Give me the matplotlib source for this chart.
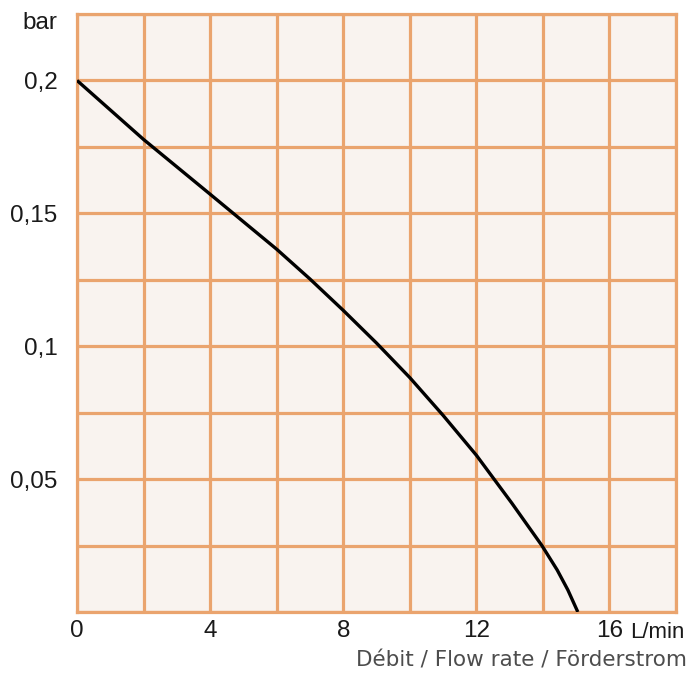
import matplotlib
matplotlib.use("Agg")
import matplotlib.pyplot as plt
from matplotlib.ticker import MultipleLocator

# Data
flow = [0, 2, 4, 6, 7, 8, 9, 10, 11, 12, 13.07, 13.5, 13.97, 14.43, 14.75, 15.05]
pressure = [0.2, 0.1778, 0.1572, 0.1365, 0.1253, 0.1135, 0.1012, 0.0882, 0.074,
            0.059, 0.0409, 0.0333, 0.025, 0.0158, 0.0083, 0.0]
xticks = [0, 4, 8, 12, 16]
xtick_labels = ["0", "4", "8", "12", "16"]
yticks = [0.05, 0.1, 0.15, 0.2]
ytick_labels = ["0,05", "0,1", "0,15", "0,2"]

grid_color = "#EAA46E"
bg_color = "#F9F3EF"
label_font = ["Liberation Sans", "DejaVu Sans"]
text_color = "#1a1a1a"

fig = plt.figure(figsize=(6.89, 6.74), dpi=100)
ax = fig.add_axes([77/689, 1 - 612/674, (676 - 77)/689, (612 - 14)/674])
ax.set_facecolor(bg_color)

ax.plot(flow, pressure, color="black", lw=2.4, solid_capstyle="butt",
        solid_joinstyle="round", zorder=5)

ax.set_xlim(0, 18)
ax.set_ylim(0, 0.225)
ax.xaxis.set_minor_locator(MultipleLocator(2))
ax.yaxis.set_minor_locator(MultipleLocator(0.025))
ax.set_xticks(xticks)
ax.set_xticklabels(xtick_labels, family=label_font, fontsize=17.5, color=text_color)
ax.set_yticks(yticks)
ax.set_yticklabels(ytick_labels, family=label_font, fontsize=17.5, color=text_color)
ax.grid(which="both", color=grid_color, lw=2.3)
ax.set_axisbelow(True)
ax.tick_params(which="both", length=0)
ax.tick_params(axis="y", pad=14)
ax.tick_params(axis="x", pad=6)
for s in ax.spines.values():
    s.set_color(grid_color)
    s.set_linewidth(2.3)

ax.text(-20 / 33.25, 0.2215, "bar", ha="right", va="center",
        family=label_font, fontsize=17.5, color=text_color)
ax.text(16.62, -0.0078, "L/min", ha="left", va="center",
        family=label_font, fontsize=16, color=text_color)
fig.text(687/689, 1 - 661/674, "Débit / Flow rate / Förderstrom", ha="right", va="center",
         fontsize=15.5, color="#4d4d4d")

fig.savefig("out.png", dpi=100, facecolor="white")
